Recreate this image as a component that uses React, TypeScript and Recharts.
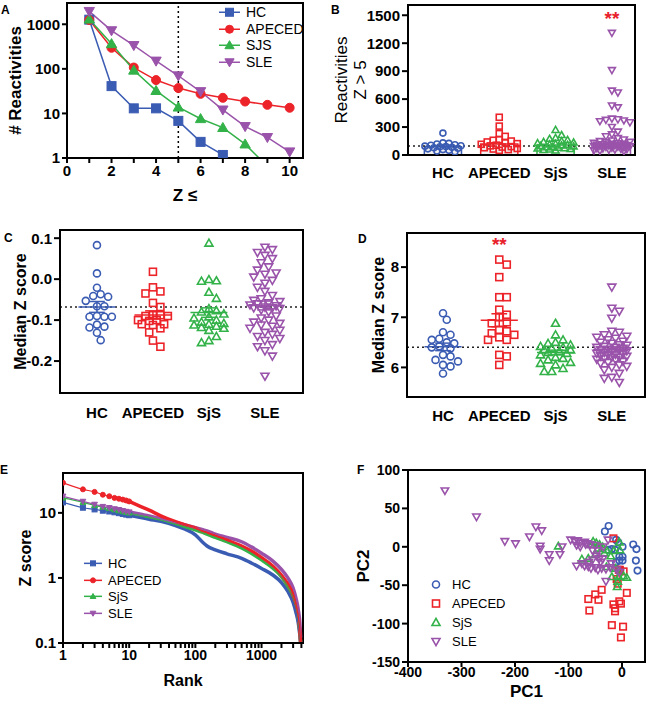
import React from 'react';
import {
  LineChart, Line, XAxis, YAxis, ReferenceLine, ReferenceArea, ReferenceDot,
  Legend, ScatterChart, Scatter, Label,
} from 'recharts';

const FONT = 'Arial, "Liberation Sans", Helvetica, sans-serif';

// ---------- shared categories / colours ----------
const groupNames = ['HC', 'APECED', 'SjS', 'SLE'];
const groupColors = ['#3b5cb3', '#ec2329', '#33b249', '#9a53aa'];
const groupShapes = ['circle', 'square', 'up', 'down'];

// ---------- Panel A ----------
const zThresholds = [1, 2, 3, 4, 5, 6, 7, 8, 9, 10];
const reactHC = [1270, 41, 13, 13, 6.8, 2.3, 1.17, 0.5, null, null];
const reactAPECED = [1250, 297, 107, 56, 37, 27.5, 22.4, 18.5, 15.6, 13.4];
const reactSJS = [1300, 365, 93, 32.5, 13.8, 7.6, 4.8, 2.05, 0.65, null];
const reactSLE = [1950, 720, 335, 150, 70, 31, 12, 5.1, 2.9, 1.38];
const aNames = ['HC', 'APECED', 'SJS', 'SLE'];
const aShapes = ['square', 'circle', 'up', 'down'];
const zTicks = [0, 1, 2, 3, 4, 5, 6, 7, 8, 9, 10];
const reactTicks = [1, 10, 100, 1000];
const zCut = 5;

// ---------- Panel B : reactivities Z > 5 ----------
const bHC = [235, 130, 125, 118, 110, 105, 100, 95, 90, 88, 82, 78, 72, 66, 58, 50, 42, 35];
const bAPECED = [405, 310, 230, 200, 165, 158, 150, 140, 130, 122, 115, 105, 98, 90, 85, 78, 70, 64, 58, 50];
const bSjS = [270, 215, 185, 175, 162, 150, 142, 135, 128, 120, 115, 110, 104, 98, 93, 88, 84, 78, 74, 70, 65, 60, 55, 50];
const bSLE = [1310, 910, 690, 670, 530, 510, 390, 382, 376, 370, 362, 350, 300, 250, 220, 200, 180, 165, 155, 148, 140, 135, 130, 125, 120, 118, 115, 112, 108, 105, 102, 100, 98, 95, 92, 90, 86, 82, 78, 74, 70, 66, 62, 58, 54, 50, 45, 40];
const bTicks = [0, 300, 600, 900, 1200, 1500];
const bCut = 97;
const bStar = 1470;

// ---------- Panel C : median Z score ----------
const cHC = [0.083, 0.014, -0.021, -0.037, -0.041, -0.043, -0.053, -0.066, -0.066, -0.090, -0.092, -0.092, -0.092, -0.111, -0.116, -0.118, -0.131, -0.149];
const cAPECED = [0.018, -0.020, -0.030, -0.035, -0.058, -0.068, -0.088, -0.088, -0.090, -0.090, -0.100, -0.100, -0.102, -0.110, -0.110, -0.112, -0.120, -0.130, -0.150, -0.165];
const cSjS = [0.088, -0.001, -0.004, -0.005, -0.032, -0.047, -0.072, -0.077, -0.080, -0.085, -0.092, -0.095, -0.100, -0.105, -0.108, -0.110, -0.112, -0.115, -0.118, -0.120, -0.125, -0.140, -0.150, -0.155];
const cSLE = [0.078, 0.072, 0.065, 0.058, 0.050, 0.040, 0.030, 0.022, 0.015, 0.012, 0.005, -0.003, -0.010, -0.020, -0.030, -0.040, -0.048, -0.052, -0.055, -0.058, -0.060, -0.063, -0.065, -0.068, -0.070, -0.070, -0.072, -0.075, -0.080, -0.090, -0.095, -0.100, -0.105, -0.108, -0.112, -0.115, -0.120, -0.125, -0.130, -0.135, -0.140, -0.145, -0.150, -0.160, -0.165, -0.175, -0.188, -0.237];
const cTicks = [-0.2, -0.1, 0, 0.1];
const cCut = -0.068;

// ---------- Panel D : median Z score ----------
const dHC = [7.08, 6.95, 6.70, 6.65, 6.57, 6.55, 6.50, 6.48, 6.42, 6.40, 6.38, 6.25, 6.22, 6.15, 6.12, 6.05, 6.02, 5.88];
const dAPECED = [8.15, 8.05, 7.80, 7.40, 7.40, 7.15, 7.05, 7.00, 6.90, 6.88, 6.75, 6.72, 6.68, 6.65, 6.60, 6.55, 6.55, 6.25, 6.22, 6.05];
const dSjS = [6.88, 6.65, 6.55, 6.50, 6.48, 6.45, 6.42, 6.40, 6.38, 6.35, 6.35, 6.32, 6.30, 6.28, 6.25, 6.20, 6.18, 6.15, 6.10, 6.08, 6.05, 5.98, 5.92, 5.92];
const dSLE = [7.60, 7.18, 7.12, 6.98, 6.72, 6.70, 6.65, 6.62, 6.60, 6.58, 6.55, 6.52, 6.50, 6.48, 6.45, 6.44, 6.42, 6.40, 6.40, 6.38, 6.36, 6.35, 6.34, 6.33, 6.32, 6.30, 6.28, 6.27, 6.26, 6.25, 6.23, 6.22, 6.20, 6.20, 6.18, 6.16, 6.15, 6.12, 6.10, 6.08, 6.05, 6.02, 6.00, 5.95, 5.88, 5.80, 5.78, 5.70];
const dTicks = [6, 7, 8];
const dCut = 6.4;
const dStar = 8.46;

// ---------- Panel E : Z score by rank ----------
const ranks = [1, 2, 3, 4, 5, 6, 7, 8, 9, 10, 15, 20, 30, 50, 70, 100, 130, 150, 200, 300, 500, 700, 1000, 1500, 2000, 2500, 3000, 3300, 3600, 3800, 3900];
const eHC = [14.5, 12, 11.3, 10.8, 10.5, 10.2, 9.9, 9.6, 9.4, 9.2, 8.5, 8.0, 7.4, 6.4, 5.6, 4.6, 3.5, 3.1, 2.7, 2.35, 2.0, 1.7, 1.4, 1.1, 0.85, 0.62, 0.42, 0.3, 0.2, 0.13, 0.1];
const eAPECED = [29, 23, 21, 19, 18, 17, 16.5, 16, 15.5, 15, 12.5, 11, 9, 7.3, 6.5, 5.9, 5.2, 5.0, 4.5, 3.8, 3.1, 2.6, 2.05, 1.5, 1.1, 0.8, 0.55, 0.4, 0.25, 0.15, 0.1];
const eSjS = [17, 14.5, 13, 12.3, 11.7, 11.2, 10.8, 10.5, 10.2, 10, 9.2, 8.6, 7.8, 6.7, 6.1, 5.5, 5.0, 4.7, 4.2, 3.6, 2.9, 2.4, 1.9, 1.4, 1.05, 0.75, 0.52, 0.38, 0.24, 0.14, 0.1];
const eSLE = [18, 15, 13.5, 12.5, 12, 11.5, 11.2, 10.8, 10.5, 10.3, 9.5, 9.0, 8.1, 7.1, 6.5, 5.9, 5.5, 5.3, 4.7, 4.2, 3.6, 3.0, 2.4, 1.8, 1.35, 1.0, 0.7, 0.5, 0.32, 0.2, 0.12];
const rankTicks = [1, 2, 3, 4, 5, 6, 7, 8, 9, 10, 20, 30, 40, 50, 60, 70, 80, 90, 100, 200, 300, 400, 500, 600, 700, 800, 900, 1000, 2000, 3000, 4000];
const rankMajor = [1, 10, 100, 1000];
const zScoreTicks = [0.1, 1, 10];

// ---------- Panel F : PCA ----------
const pcHC = [[-32, 20], [-25, 27], [-11, 9], [-7, 6], [-26, -4], [-13, -4], [-19, -3], [1, 0], [-5, -13], [1, -13], [-5, -18], [1, -18], [-11, -20], [-3, -30], [21, 3], [27, -3], [26, -18], [29, -31]];
const pcAPECED = [[-16, 11], [-4, -30], [3, -32], [-10, -42], [-8, -48], [9, -60], [-38, -56], [-50, -62], [-44, -69], [-63, -68], [-61, -83], [-16, -75], [-13, -80], [-13, -84], [-5, -71], [-2, -74], [2, -104], [-19, -102], [-2, -118], [-6, -30]];
const pcSjS = [[-119, 1], [-75, -16], [-63, -15], [-54, 7], [-48, 5], [-42, 3], [-36, 0], [-29, -4], [-21, -12], [-29, -26], [-19, -39], [-9, -52], [-6, -39], [9, -40], [-4, -4], [-5, 6], [-57, 3], [-45, -2], [-15, -5], [-8, -45], [-12, -28], [-50, -10], [-33, -8], [3, -38]];
const pcSLE = [[-331, 73], [-272, 39], [-219, 7], [-199, 4], [-173, 13], [-161, 26], [-150, 21], [-153, 1], [-153, -3], [-136, -10], [-136, -18], [-116, -10], [-112, 0], [-96, 9], [-88, 7], [-83, 8], [-78, 5], [-70, 6], [-65, 4], [-60, 3], [-85, 2], [-78, 0], [-70, -25], [-63, -26], [-75, -22], [-55, -17], [-48, -12], [-42, -15], [-36, -16], [-50, -27], [-45, -30], [-38, -28], [-30, -29], [-22, -27], [-30, -45], [-26, 9], [-10, -30], [-55, -5], [-45, -5], [-35, 0], [-62, -20], [-20, -22], [-5, -33], [-85, -25], [-40, -20], [-58, -28], [-68, 3], [-50, 2]];
const pc1Ticks = [-400, -300, -200, -100, 0];
const pc2Ticks = [-150, -100, -50, 0, 50, 100];

// ---------- helpers ----------
const axisLineStyle = { stroke: '#000', strokeWidth: 2 };
const tickLineStyle = { stroke: '#000', strokeWidth: 2 };
const tickFont = (size: number) => ({ fill: '#000', fontSize: size, fontWeight: 700, fontFamily: FONT });
const titleStyle = (size: number, bold = true) => ({ textAnchor: 'middle' as const, fontSize: size, fontWeight: bold ? 700 : 400, fontFamily: FONT, fill: '#000' });

function Mark({ shape, cx, cy, size, color, filled, sw = 1.5 }: any) {
  if (cx == null || cy == null) return null;
  const r = size / 2;
  const common = { fill: filled ? color : 'none', stroke: color, strokeWidth: sw };
  if (shape === 'circle') return <circle cx={cx} cy={cy} r={r} {...common} />;
  if (shape === 'square') return <rect x={cx - r} y={cy - r} width={size} height={size} {...common} />;
  const t = r * 1.15;
  if (shape === 'up') return <polygon points={`${cx},${cy - t} ${cx + t},${cy + t * 0.75} ${cx - t},${cy + t * 0.75}`} {...common} />;
  return <polygon points={`${cx},${cy + t} ${cx + t},${cy - t * 0.75} ${cx - t},${cy - t * 0.75}`} {...common} />;
}

function LegendBox({ names, shapes, colors, fontSize, rowH, lineLen, markSize, filled, showLine, sw }: any) {
  return (
    <div style={{ fontFamily: FONT, fontSize, color: '#000', lineHeight: 1 }}>
      {names.map((n: string, i: number) => (
        <div key={n} style={{ display: 'flex', alignItems: 'center', height: rowH }}>
          <svg width={lineLen} height={rowH} style={{ display: 'block' }}>
            {showLine && <line x1={0} x2={lineLen} y1={rowH / 2} y2={rowH / 2} stroke={colors[i]} strokeWidth={1.5} />}
            <Mark shape={shapes[i]} cx={lineLen / 2} cy={rowH / 2} size={markSize} color={colors[i]} filled={filled} sw={sw} />
          </svg>
          <span style={{ marginLeft: 6 }}>{n}</span>
        </div>
      ))}
    </div>
  );
}

function swarmOffsets(values: number[], pxPerY: number, pxPerX: number, diam: number, maxPx: number) {
  const order = values.map((v, i) => ({ v, i })).sort((a, b) => b.v - a.v);
  const placed: { x: number; y: number }[] = [];
  const out: number[] = new Array(values.length).fill(0);
  const step = diam * 0.5;
  for (const { v, i } of order) {
    const y = v * pxPerY;
    let chosen = 0;
    let best = -1;
    for (let k = 0; k < 400; k++) {
      const c = (k % 2 === 1 ? 1 : -1) * Math.ceil(k / 2) * step;
      if (Math.abs(c) > maxPx) break;
      const minD = placed.reduce((m, p) => Math.min(m, Math.hypot(p.x - c, p.y - y)), Infinity);
      if (minD >= diam) { chosen = c; break; }
      if (minD > best) { best = minD; chosen = c; }
    }
    placed.push({ x: chosen, y });
    out[i] = chosen / pxPerX;
  }
  return out;
}

const mean = (a: number[]) => a.reduce((s, v) => s + v, 0) / a.length;
const sem = (a: number[]) => {
  const m = mean(a);
  return Math.sqrt(a.reduce((s, v) => s + (v - m) ** 2, 0) / (a.length - 1)) / Math.sqrt(a.length);
};
const median = (a: number[]) => {
  const s = [...a].sort((x, y) => x - y);
  const n = s.length;
  return n % 2 ? s[(n - 1) / 2] : (s[n / 2 - 1] + s[n / 2]) / 2;
};

function PanelLetter({ x, y, text }: any) {
  return <div style={{ position: 'absolute', left: x, top: y, fontFamily: FONT, fontWeight: 700, fontSize: 12, lineHeight: 1 }}>{text}</div>;
}

// ---------- Panel A ----------
function PanelA() {
  const series = [reactHC, reactAPECED, reactSJS, reactSLE];
  const data = zThresholds.map((z, i) => {
    const row: any = { z };
    aNames.forEach((n, k) => { row[n] = series[k][i]; });
    return row;
  });
  const xMax = 10.6;
  const yMax = 3000;
  return (
    <div style={{ position: 'absolute', left: 0, top: 0 }}>
      <LineChart width={330} height={210} data={data} margin={{ top: 3, right: 27, bottom: 0, left: 0 }}>
        <XAxis dataKey="z" type="number" domain={[0, xMax]} allowDataOverflow ticks={zTicks} interval={0}
          tickFormatter={(v: number) => (v % 2 === 0 ? String(v) : '')}
          axisLine={axisLineStyle} tickLine={tickLineStyle} tickSize={5} tick={tickFont(15)} height={52}>
          <Label value="Z ≤" position="insideBottom" offset={9} style={titleStyle(17)} />
        </XAxis>
        <YAxis type="number" scale="log" domain={[1, yMax]} allowDataOverflow ticks={reactTicks} interval={0}
          axisLine={axisLineStyle} tickLine={tickLineStyle} tickSize={5} tick={tickFont(15)} width={67}>
          <Label value="# Reactivities" angle={-90} position="insideLeft" offset={15} style={titleStyle(17)} />
        </YAxis>
        <ReferenceArea x1={0} x2={xMax} y1={1} y2={yMax} fill="none" stroke="#000" strokeWidth={2} />
        <ReferenceLine x={zCut} stroke="#000" strokeWidth={1.5} strokeDasharray="2 3" />
        {aNames.map((n, k) => (
          <Line key={n} dataKey={n} type="linear" stroke={groupColors[k]} strokeWidth={1.5} isAnimationActive={false}
            dot={(p: any) => <Mark key={`${n}-${p.index}`} shape={aShapes[k]} cx={p.cx} cy={p.cy} size={9} color={groupColors[k]} filled sw={1} />}
            activeDot={false} />
        ))}
        <Legend layout="vertical" align="center" verticalAlign="middle"
          wrapperStyle={{ left: 219, top: 4, width: 'auto' }}
          content={() => <LegendBox names={aNames} shapes={aShapes} colors={groupColors} fontSize={14} rowH={16.5} lineLen={21} markSize={8} filled showLine sw={1} />} />
      </LineChart>
    </div>
  );
}

// ---------- dot-plot panels (B, C, D) ----------
function DotPanel(props: any) {
  const { left, top, width, height, margin, yAxisWidth, xAxisHeight, xDomain, yDomain, yTicks, yFmt,
    sets, pxPerY, diam, maxPx, markSize, cut, titles, star, bars, meanLines, catMargin } = props;
  const pxPerX = 56.3;
  const scat = sets.map((vals: number[], g: number) => {
    const offs = swarmOffsets(vals, pxPerY, pxPerX, diam, maxPx);
    return vals.map((v, k) => ({ x: g + offs[k], y: v }));
  });
  const extras: any[] = [];
  if (bars) {
    sets.forEach((vals: number[], g: number) => {
      extras.push(<ReferenceArea key={`bar${g}`} x1={g - 0.33} x2={g + 0.33} y1={yDomain[0]} y2={median(vals)}
        fill="#e3e3e3" stroke={groupColors[g]} strokeWidth={1.5} />);
    });
  }
  const lines: any[] = [];
  if (meanLines) {
    sets.forEach((vals: number[], g: number) => {
      const m = mean(vals);
      const s = sem(vals);
      const c = groupColors[g];
      lines.push(<ReferenceLine key={`m${g}`} segment={[{ x: g - 0.33, y: m }, { x: g + 0.33, y: m }]} stroke={c} strokeWidth={1.5} />);
      lines.push(<ReferenceLine key={`v${g}`} segment={[{ x: g, y: m - s }, { x: g, y: m + s }]} stroke={c} strokeWidth={1.5} />);
      lines.push(<ReferenceLine key={`t${g}`} segment={[{ x: g - 0.14, y: m + s }, { x: g + 0.14, y: m + s }]} stroke={c} strokeWidth={1.5} />);
      lines.push(<ReferenceLine key={`b${g}`} segment={[{ x: g - 0.14, y: m - s }, { x: g + 0.14, y: m - s }]} stroke={c} strokeWidth={1.5} />);
    });
  }
  return (
    <div style={{ position: 'absolute', left, top }}>
      <ScatterChart width={width} height={height} margin={margin}>
        <XAxis type="number" dataKey="x" domain={xDomain} allowDataOverflow ticks={[0, 1, 2, 3]} interval={0}
          tickFormatter={(v: number) => groupNames[v]} tickLine={false} axisLine={axisLineStyle}
          tick={tickFont(15)} tickMargin={catMargin} height={xAxisHeight} />
        <YAxis type="number" dataKey="y" domain={yDomain} allowDataOverflow ticks={yTicks} interval={0}
          tickFormatter={yFmt} axisLine={axisLineStyle} tickLine={tickLineStyle} tickSize={6}
          tick={tickFont(15)} width={yAxisWidth}>
          {titles.map((t: any, i: number) => (
            <Label key={i} value={t.text} angle={-90} position="insideLeft" offset={t.offset} style={titleStyle(t.size, t.bold)} />
          ))}
        </YAxis>
        <ReferenceArea x1={xDomain[0]} x2={xDomain[1]} y1={yDomain[0]} y2={yDomain[1]} fill="none" stroke="#000" strokeWidth={2} />
        {extras}
        <ReferenceLine y={cut} stroke="#222" strokeWidth={1.5} strokeDasharray="2 3" />
        {scat.map((d: any[], g: number) => (
          <Scatter key={groupNames[g]} name={groupNames[g]} data={d} isAnimationActive={false}
            shape={(p: any) => <Mark shape={groupShapes[g]} cx={p.cx} cy={p.cy} size={markSize} color={groupColors[g]} sw={1.6} />} />
        ))}
        {lines}
        {star && (
          <ReferenceDot x={star.x} y={star.y} r={1} fill="none" stroke="none"
            label={{ value: '**', position: 'center', fill: '#e8202a', fontSize: 19, fontWeight: 700, fontFamily: FONT }} />
        )}
      </ScatterChart>
    </div>
  );
}

// ---------- Panel E ----------
function PanelE() {
  const series = [eHC, eAPECED, eSjS, eSLE];
  const data = ranks.map((r, i) => {
    const row: any = { rank: r };
    groupNames.forEach((n, k) => { row[n] = series[k][i]; });
    return row;
  });
  const order = [0, 2, 3, 1];
  const eShapes = ['square', 'circle', 'up', 'down'];
  return (
    <div style={{ position: 'absolute', left: 0, top: 440 }}>
      <LineChart width={330} height={261} data={data} margin={{ top: 33, right: 27, bottom: 0, left: 0 }}>
        <XAxis dataKey="rank" type="number" scale="log" domain={[1, 4230]} allowDataOverflow ticks={rankTicks} interval={0}
          tickFormatter={(v: number) => (rankMajor.includes(v) ? String(v) : '')}
          axisLine={axisLineStyle} tickLine={tickLineStyle} tickSize={5} tick={tickFont(14)} height={58}>
          <Label value="Rank" position="insideBottom" offset={15} style={titleStyle(16)} />
        </XAxis>
        <YAxis type="number" scale="log" domain={[0.1, 41]} allowDataOverflow ticks={zScoreTicks} interval={0}
          tickFormatter={(v: number) => String(v)}
          axisLine={axisLineStyle} tickLine={tickLineStyle} tickSize={5} tick={tickFont(15)} width={63}>
          <Label value="Z score" angle={-90} position="insideLeft" offset={25} style={titleStyle(16)} />
        </YAxis>
        <ReferenceArea x1={1} x2={4230} y1={0.1} y2={41} fill="none" stroke="#000" strokeWidth={2} />
        {order.map((k) => (
          <Line key={`thick-${k}`} dataKey={(d: any) => (d.rank >= 10 ? d[groupNames[k]] : null)} type="monotone"
            stroke={groupColors[k]} strokeWidth={3.5} dot={false} activeDot={false} isAnimationActive={false} />
        ))}
        {order.map((k) => (
          <Line key={`thin-${k}`} dataKey={groupNames[k]} type="monotone" stroke={groupColors[k]} strokeWidth={1.2}
            isAnimationActive={false} activeDot={false}
            dot={(p: any) => (p.payload && p.payload.rank <= 10
              ? <Mark key={`e${k}-${p.index}`} shape={eShapes[k]} cx={p.cx} cy={p.cy} size={5} color={groupColors[k]} filled sw={1} />
              : <g key={`e${k}-${p.index}`} />)} />
        ))}
        <Legend layout="vertical" align="center" verticalAlign="middle"
          wrapperStyle={{ left: 84, top: 115, width: 'auto' }}
          content={() => <LegendBox names={groupNames} shapes={eShapes} colors={groupColors} fontSize={13} rowH={16.7} lineLen={18} markSize={5} filled showLine sw={1} />} />
      </LineChart>
    </div>
  );
}

// ---------- Panel F ----------
function PanelF() {
  const sets = [pcHC, pcAPECED, pcSjS, pcSLE];
  return (
    <div style={{ position: 'absolute', left: 330, top: 440 }}>
      <ScatterChart width={321} height={261} margin={{ top: 30, right: 6, bottom: 0, left: 0 }}>
        <XAxis type="number" dataKey="x" domain={[-400, 43]} allowDataOverflow ticks={pc1Ticks} interval={0}
          axisLine={axisLineStyle} tickLine={tickLineStyle} tickSize={5} tickMargin={0} tick={tickFont(14)} height={39}>
          <Label value="PC1" position="insideBottom" offset={4} style={titleStyle(17)} />
        </XAxis>
        <YAxis type="number" dataKey="y" domain={[-150, 100]} allowDataOverflow ticks={pc2Ticks} interval={0}
          axisLine={axisLineStyle} tickLine={tickLineStyle} tickSize={6} tick={tickFont(14)} width={78}>
          <Label value="PC2" angle={-90} position="insideLeft" offset={33} style={titleStyle(17)} />
        </YAxis>
        <ReferenceArea x1={-400} x2={43} y1={-150} y2={100} fill="none" stroke="#000" strokeWidth={2} />
        {sets.map((pts, g) => (
          <Scatter key={groupNames[g]} name={groupNames[g]} data={pts.map(([x, y]) => ({ x, y }))} isAnimationActive={false}
            shape={(p: any) => <Mark shape={groupShapes[g]} cx={p.cx} cy={p.cy} size={6.5} color={groupColors[g]} sw={1.6} />} />
        ))}
        <Legend layout="vertical" align="center" verticalAlign="middle"
          wrapperStyle={{ left: 96, top: 135, width: 'auto' }}
          content={() => <LegendBox names={groupNames} shapes={groupShapes} colors={groupColors} fontSize={13} rowH={19} lineLen={20} markSize={7} showLine={false} sw={1.6} />} />
      </ScatterChart>
    </div>
  );
}

export default function App() {
  return (
    <div style={{ position: 'absolute', left: 0, top: 0, width: 651, height: 701, background: '#fff', overflow: 'hidden' }}>
      <PanelA />
      <DotPanel left={330} top={0} width={321} height={210}
        margin={{ top: 5, right: 16, bottom: 0, left: 0 }} yAxisWidth={78} xAxisHeight={55}
        xDomain={[-0.62, 3.41]} yDomain={[0, 1610]} yTicks={bTicks} yFmt={(v: number) => String(v)}
        sets={[bHC, bAPECED, bSjS, bSLE]} pxPerY={0.0927} diam={6} maxPx={20} markSize={6}
        cut={bCut} bars meanLines={false} catMargin={6}
        titles={[{ text: 'Reactivities', offset: 11, size: 17, bold: false }, { text: 'Z > 5', offset: 30, size: 17, bold: false }]}
        star={{ x: 3, y: bStar }} />
      <DotPanel left={0} top={210} width={330} height={230}
        margin={{ top: 20, right: 27, bottom: 0, left: 0 }} yAxisWidth={60} xAxisHeight={47}
        xDomain={[-0.66, 3.68]} yDomain={[-0.278, 0.12]} yTicks={cTicks} yFmt={(v: number) => v.toFixed(1)}
        sets={[cHC, cAPECED, cSjS, cSLE]} pxPerY={410} diam={7.5} maxPx={17} markSize={7}
        cut={cCut} meanLines catMargin={8}
        titles={[{ text: 'Median Z score', offset: 20, size: 16, bold: true }]} />
      <DotPanel left={330} top={210} width={321} height={230}
        margin={{ top: 23, right: 6, bottom: 0, left: 0 }} yAxisWidth={77} xAxisHeight={43}
        xDomain={[-0.64, 3.59]} yDomain={[5.41, 8.68]} yTicks={dTicks} yFmt={(v: number) => String(v)}
        sets={[dHC, dAPECED, dSjS, dSLE]} pxPerY={50} diam={7.5} maxPx={17} markSize={7}
        cut={dCut} meanLines catMargin={7}
        titles={[{ text: 'Median Z score', offset: 48, size: 16, bold: true }]}
        star={{ x: 1, y: dStar }} />
      <PanelE />
      <PanelF />
      <PanelLetter x={1} y={4} text="A" />
      <PanelLetter x={331} y={4} text="B" />
      <PanelLetter x={4} y={232} text="C" />
      <PanelLetter x={358} y={233} text="D" />
      <PanelLetter x={0} y={464} text="E" />
      <PanelLetter x={357} y={464} text="F" />
    </div>
  );
}
